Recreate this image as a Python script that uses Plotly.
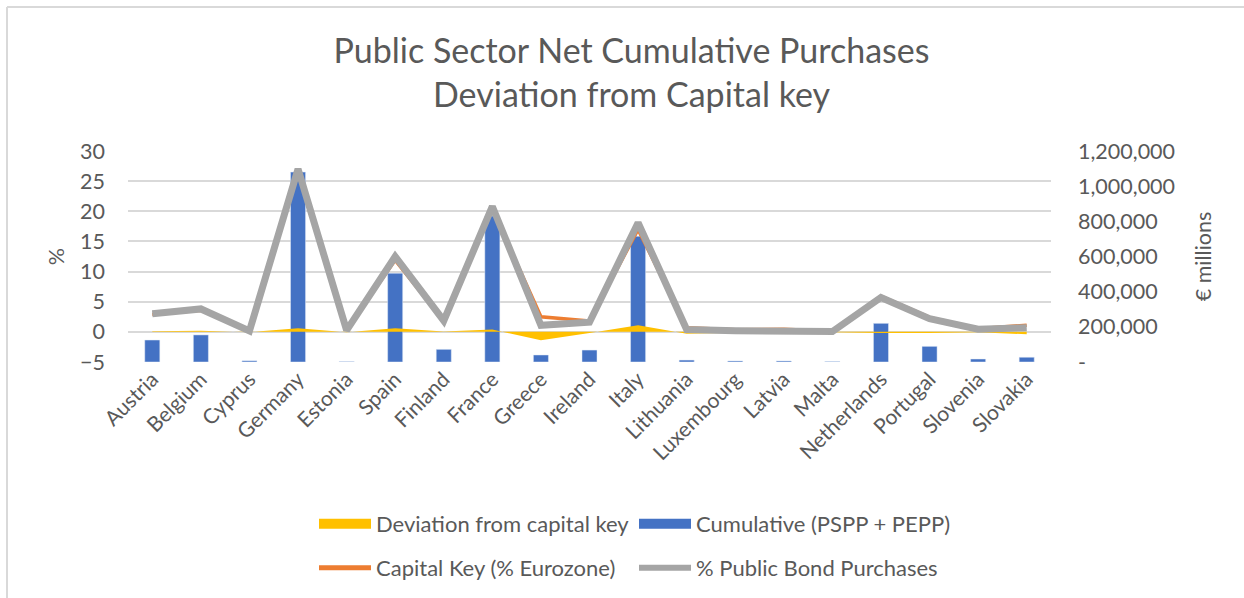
import plotly.graph_objects as go

countries = ["Austria", "Belgium", "Cyprus", "Germany", "Estonia", "Spain", "Finland",
             "France", "Greece", "Ireland", "Italy", "Lithuania", "Luxembourg", "Latvia",
             "Malta", "Netherlands", "Portugal", "Slovenia", "Slovakia"]

# € millions (right axis)
cumulative = [125000, 154000, 7000, 1080000, 2500, 505000, 72000, 830000, 40000, 68000,
              715000, 11000, 6000, 6000, 3000, 220000, 89000, 17000, 27000]

# % (left axis)
capital_key = [2.9, 3.6, 0.2, 26.4, 0.3, 11.9, 1.8, 20.4, 2.5, 1.8, 17.0, 0.7, 0.35, 0.45,
               0.1, 5.9, 2.4, 0.5, 1.1]
bond_purchases = [3.0, 3.8, 0.15, 27.0, 0.25, 12.5, 1.85, 20.8, 1.1, 1.6, 18.1, 0.4, 0.2,
                  0.25, 0.05, 5.7, 2.2, 0.45, 0.7]
deviation = [0.1, 0.2, -0.05, 0.6, -0.05, 0.6, 0.05, 0.4, -1.4, -0.2, 1.1, -0.3, -0.15,
             -0.2, -0.05, -0.2, -0.2, -0.05, -0.4]

left_ticks = [-5, 0, 5, 10, 15, 20, 25, 30]
right_ticks = [0, 200000, 400000, 600000, 800000, 1000000, 1200000]
right_ticktext = ["-", "200,000", "400,000", "600,000", "800,000", "1,000,000", "1,200,000"]

YELLOW = "#FFC000"
BLUE = "#4472C4"
ORANGE = "#ED7D31"
GRAY = "#A5A5A5"
TXT = "#595959"
GRID = "#D9D9D9"
FONT = "Lato"

fig = go.Figure()

# Bars on the (right-side) primary axis so they are drawn underneath the lines
fig.add_trace(go.Bar(x=countries, y=cumulative, marker_color=BLUE, yaxis="y",
                     showlegend=False, name="Cumulative (PSPP + PEPP)"))

fig.add_trace(go.Scatter(x=countries, y=deviation, yaxis="y2", mode="none", fill="tozeroy",
                         fillcolor=YELLOW, showlegend=False, name="Deviation from capital key"))
fig.add_trace(go.Scatter(x=countries, y=capital_key, yaxis="y2", mode="lines",
                         line=dict(color=ORANGE, width=3.5), showlegend=False,
                         name="Capital Key (% Eurozone)"))
fig.add_trace(go.Scatter(x=countries, y=bond_purchases, yaxis="y2", mode="lines",
                         line=dict(color=GRAY, width=7), showlegend=False,
                         name="% Public Bond Purchases"))

# legend entries
fig.add_trace(go.Scatter(x=[None], y=[None], yaxis="y2", mode="lines",
                         line=dict(color=YELLOW, width=14), name="Deviation from capital key",
                         legend="legend"))
fig.add_trace(go.Scatter(x=[None], y=[None], yaxis="y2", mode="lines",
                         line=dict(color=BLUE, width=14), name="Cumulative (PSPP + PEPP)",
                         legend="legend"))
fig.add_trace(go.Scatter(x=[None], y=[None], yaxis="y2", mode="lines",
                         line=dict(color=ORANGE, width=5), name="Capital Key (% Eurozone)",
                         legend="legend2"))
fig.add_trace(go.Scatter(x=[None], y=[None], yaxis="y2", mode="lines",
                         line=dict(color=GRAY, width=6), name="% Public Bond Purchases",
                         legend="legend2"))

PL, PR, PT, PB = 128, 193, 151, 236
W, H = 1244, 598
pw = W - PL - PR
ph = H - PT - PB


def px_x(x):
    return (x - PL) / pw


def px_y(y):
    return (H - PB - y) / ph


legend_common = dict(orientation="h", entrywidth=253, entrywidthmode="pixels", itemwidth=52,
                     font=dict(family=FONT, size=22, color=TXT), xanchor="left",
                     yanchor="middle", xref="container", yref="container",
                     bgcolor="rgba(0,0,0,0)", tracegroupgap=0)

fig.update_layout(
    width=W, height=H,
    margin=dict(l=PL, r=PR, t=PT, b=PB, autoexpand=False),
    paper_bgcolor="white", plot_bgcolor="white",
    font=dict(family=FONT, color=TXT),
    title=dict(text="Public Sector Net Cumulative Purchases<br>Deviation from Capital key",
               x=631.5 / W, xanchor="center", xref="container", y=1 - 63 / H,
               yanchor="middle", yref="container",
               font=dict(family=FONT, size=34, color=TXT)),
    bargap=0.69,
    xaxis=dict(type="category", tickangle=-45, showgrid=False, showline=False, ticks="",
               tickfont=dict(family=FONT, size=21, color=TXT)),
    yaxis=dict(side="right", range=[0, 1200000], tickvals=right_ticks, ticktext=right_ticktext,
               showgrid=False, zeroline=False, showline=False, ticks="",
               ticklabelstandoff=26,
               tickfont=dict(family=FONT, size=21.5, color=TXT),
               title=dict(text="€ millions", font=dict(family=FONT, size=21.5, color=TXT),
                          standoff=21)),
    yaxis2=dict(overlaying="y", side="left", range=[-5, 30], tickvals=left_ticks,
                showgrid=True, gridcolor=GRID, gridwidth=2, zeroline=False, showline=False,
                ticks="", ticklabelstandoff=22,
                tickfont=dict(family=FONT, size=21.5, color=TXT),
                title=dict(text="%", font=dict(family=FONT, size=21.5, color=TXT), standoff=9)),
    legend=dict(x=314 / W, y=1 - 524 / H, **legend_common),
    legend2=dict(x=314 / W, y=1 - 568 / H, **legend_common),
    shapes=[
        dict(type="line", xref="paper", yref="paper", x0=px_x(7), x1=px_x(W + 5),
             y0=px_y(7), y1=px_y(7), line=dict(color=GRID, width=2)),
        dict(type="line", xref="paper", yref="paper", x0=px_x(7), x1=px_x(7),
             y0=px_y(7), y1=px_y(H + 5), line=dict(color=GRID, width=2)),
    ],
)

fig.write_html("out.html")
